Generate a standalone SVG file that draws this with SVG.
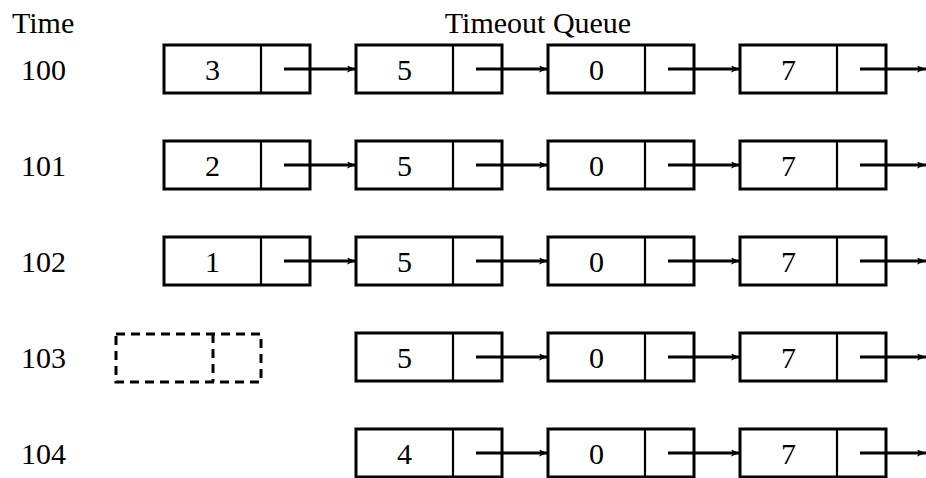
<svg xmlns="http://www.w3.org/2000/svg" width="926" height="478" viewBox="0 0 926 478">
  <style>
    text { font-family: "Liberation Serif", "DejaVu Serif", serif; font-size: 30px; fill: #000; }
    .num { text-anchor: middle; }
    .cell { fill: #fff; stroke: #000; stroke-width: 3; }
    .div { stroke: #000; stroke-width: 2.2; }
    .ghost { fill: none; stroke: #000; stroke-width: 3; stroke-dasharray: 9 6; }
    .link { stroke: #000; stroke-width: 2.8; fill: none; marker-end: url(#head); }
  </style>
  <defs>
    <marker id="head" viewBox="0 0 9 7" refX="9" refY="3.5" markerWidth="9" markerHeight="7" markerUnits="userSpaceOnUse" orient="auto">
      <path d="M0,0 L9,3.5 L0,7 L2,3.5 Z" fill="#000"/>
    </marker>
    <!-- one list node: value cell + pointer cell, origin at top-left -->
    <g id="node">
      <rect class="cell" x="0" y="0" width="146" height="48"/>
      <line class="div" x1="97" y1="0" x2="97" y2="48"/>
    </g>
  </defs>

  <!-- headings -->
  <text id="time-heading" x="12" y="33">Time</text>
  <text id="queue-heading" x="538" y="33" class="num">Timeout Queue</text>

  <!-- time labels -->
  <g id="times">
    <text x="21" y="80">100</text>
    <text x="21" y="176">101</text>
    <text x="21" y="272">102</text>
    <text x="21" y="368">103</text>
    <text x="21" y="464">104</text>
  </g>

  <!-- t = 100 -->
  <g id="n100a"><use href="#node" x="164" y="45"/><text class="num" x="212.5" y="80">3</text></g>
  <g id="n100b"><use href="#node" x="356" y="45"/><text class="num" x="404.5" y="80">5</text></g>
  <g id="n100c"><use href="#node" x="548" y="45"/><text class="num" x="596.5" y="80">0</text></g>
  <g id="n100d"><use href="#node" x="740" y="45"/><text class="num" x="788.5" y="80">7</text></g>

  <!-- t = 101 -->
  <g id="n101a"><use href="#node" x="164" y="141"/><text class="num" x="212.5" y="176">2</text></g>
  <g id="n101b"><use href="#node" x="356" y="141"/><text class="num" x="404.5" y="176">5</text></g>
  <g id="n101c"><use href="#node" x="548" y="141"/><text class="num" x="596.5" y="176">0</text></g>
  <g id="n101d"><use href="#node" x="740" y="141"/><text class="num" x="788.5" y="176">7</text></g>

  <!-- t = 102 -->
  <g id="n102a"><use href="#node" x="164" y="237"/><text class="num" x="212.5" y="272">1</text></g>
  <g id="n102b"><use href="#node" x="356" y="237"/><text class="num" x="404.5" y="272">5</text></g>
  <g id="n102c"><use href="#node" x="548" y="237"/><text class="num" x="596.5" y="272">0</text></g>
  <g id="n102d"><use href="#node" x="740" y="237"/><text class="num" x="788.5" y="272">7</text></g>

  <!-- t = 103: expired node shown dashed -->
  <g id="n103x">
    <rect class="ghost" x="116" y="334" width="145" height="48"/>
    <line class="ghost" x1="213" y1="334" x2="213" y2="382"/>
  </g>
  <g id="n103b"><use href="#node" x="356" y="333"/><text class="num" x="404.5" y="368">5</text></g>
  <g id="n103c"><use href="#node" x="548" y="333"/><text class="num" x="596.5" y="368">0</text></g>
  <g id="n103d"><use href="#node" x="740" y="333"/><text class="num" x="788.5" y="368">7</text></g>

  <!-- t = 104 -->
  <g id="n104b"><use href="#node" x="356" y="429"/><text class="num" x="404.5" y="464">4</text></g>
  <g id="n104c"><use href="#node" x="548" y="429"/><text class="num" x="596.5" y="464">0</text></g>
  <g id="n104d"><use href="#node" x="740" y="429"/><text class="num" x="788.5" y="464">7</text></g>

  <!-- next pointers -->
  <g id="links">
    <path class="link" d="M284,69 H356"/>
    <path class="link" d="M476,69 H548"/>
    <path class="link" d="M668,69 H740"/>
    <path class="link" d="M860,69 H926"/>

    <path class="link" d="M284,165 H356"/>
    <path class="link" d="M476,165 H548"/>
    <path class="link" d="M668,165 H740"/>
    <path class="link" d="M860,165 H926"/>

    <path class="link" d="M284,261 H356"/>
    <path class="link" d="M476,261 H548"/>
    <path class="link" d="M668,261 H740"/>
    <path class="link" d="M860,261 H926"/>

    <path class="link" d="M476,357 H548"/>
    <path class="link" d="M668,357 H740"/>
    <path class="link" d="M860,357 H926"/>

    <path class="link" d="M476,453 H548"/>
    <path class="link" d="M668,453 H740"/>
    <path class="link" d="M860,453 H926"/>
  </g>
</svg>
